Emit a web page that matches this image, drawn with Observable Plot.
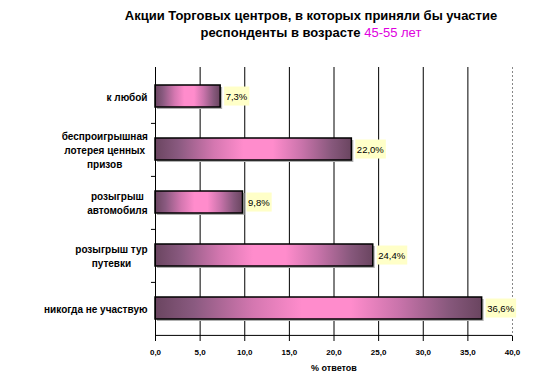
<!DOCTYPE html>
<html>
<head>
<meta charset="utf-8">
<script src="https://cdn.jsdelivr.net/npm/d3@7"></script>
<script src="https://cdn.jsdelivr.net/npm/@observablehq/plot@0.6"></script>
<style>
  html, body { margin: 0; padding: 0; background: #fff; }
  #wrap { position: relative; width: 535px; height: 390px; font-family: "Liberation Sans", Arial, sans-serif; }
  #title { box-sizing: border-box; height: 45px; margin-left: 87px; width: 448px; padding-top: 7px;
           text-align: center; font-weight: bold; font-size: 13px; line-height: 17px; color: #000; }
  #title .hl { color: #e000e0; font-weight: normal; }
</style>
</head>
<body>
<div id="wrap">
  <div id="title">Акции Торговых центров, в которых приняли бы участие<br>респонденты в возрасте <span class="hl">45-55 лет</span></div>
  <div id="chart"></div>
</div>
<script>
const categories = [
  "к любой",
  "беспроигрышная\nлотерея ценных\nпризов",
  "розыгрыш\nавтомобиля",
  "розыгрыш тур\nпутевки",
  "никогда не участвую"
];
const values = [7.3, 22.0, 9.8, 24.4, 36.6];
const xTicks = [0, 5, 10, 15, 20, 25, 30, 35, 40];
const xLabel = "% ответов";

const data = categories.map((c, i) => ({cat: c, value: values[i]}));
const fmt = d => d.toFixed(1).replace(".", ",");

const W = 535, H = 345, mT = 22, mB = 54, mL = 155, mR = 23;
const step = (H - mT - mB) / categories.length;

const plot = Plot.plot({
  width: W, height: H,
  marginTop: mT, marginBottom: mB, marginLeft: mL, marginRight: mR,
  style: {fontFamily: "'Liberation Sans', Arial, sans-serif", background: "#fff", color: "#000", overflow: "visible"},
  x: {domain: [0, 40], label: null},
  y: {domain: categories, paddingInner: 0.59, paddingOuter: 0.295, label: null},
  marks: [
    Plot.ruleX(xTicks.filter(v => v > 0 && v < 40), {stroke: "#000", strokeWidth: 1}),
    Plot.ruleX([40], {stroke: "#888", strokeDasharray: "2,2"}),
    Plot.barX(data, {x: "value", y: "cat", fill: "#b0b0b0", dx: 2, dy: 2}),
    Plot.barX(data, {x: "value", y: "cat", fill: "url(#barGrad)", stroke: "#000", strokeWidth: 1.5}),
    Plot.text(data, {x: "value", y: "cat", text: d => fmt(d.value) + "%", textAnchor: "start", dx: 5, fontSize: 9.5, fill: "#000"}),
    Plot.ruleX([0], {stroke: "#000"}),
    Plot.ruleY(categories.slice(0, 4), {x1: -0.45, x2: 0, dy: step / 2, stroke: "#000"}),
    Plot.ruleY(categories.slice(4), {dy: step / 2, stroke: "#000"}),
    Plot.axisY({tickSize: 0, tickPadding: 8, fontSize: 10, fontWeight: "bold", lineHeight: 1.4, label: null}),
    Plot.axisX({ticks: xTicks, tickFormat: fmt, tickSize: 5, tickPadding: 8, fontSize: 8, fontWeight: "bold",
                label: xLabel, labelArrow: false, labelAnchor: "center", labelOffset: 34})
  ]
});

document.getElementById("chart").appendChild(plot);

// gradient definition for the bars
const svg = d3.select(plot);
const defs = svg.insert("defs", ":first-child");
const grad = defs.append("linearGradient").attr("id", "barGrad").attr("x1", "0").attr("x2", "1").attr("y1", "0").attr("y2", "0");
[[0, "#6a4560"], [0.12, "#8a5a80"], [0.3, "#d477b0"], [0.45, "#ff8ccc"], [0.6, "#ff8ccc"], [0.75, "#c873aa"], [0.9, "#87587c"], [1, "#6a4560"]]
  .forEach(([o, c]) => grad.append("stop").attr("offset", o).attr("stop-color", c));

// style x-axis label
svg.selectAll("g[aria-label='x-axis label'] text")
  .attr("font-size", 9).attr("font-weight", "bold").attr("fill", "#000")
  .text(xLabel);

// center multi-line y labels as blocks, right-aligned
svg.selectAll("g[aria-label='y-axis tick label'] text").each(function() {
  const b = this.getBBox();
  const right = b.x + b.width;
  d3.select(this).attr("text-anchor", "middle");
  const b2 = this.getBBox();
  const shift = right - (b2.x + b2.width);
  d3.select(this).selectAll("tspan").attr("x", shift);
  if (d3.select(this).selectAll("tspan").empty()) d3.select(this).attr("dx", shift);
});

// yellow label boxes
svg.selectAll("g[aria-label='text'] text").each(function() {
  const b = this.getBBox();
  const r = document.createElementNS("http://www.w3.org/2000/svg", "rect");
  r.setAttribute("x", b.x - 1.5);
  r.setAttribute("y", b.y - 4);
  r.setAttribute("width", b.width + 3);
  r.setAttribute("height", b.height + 8);
  r.setAttribute("fill", "#ffffc8");
  const t = this.getAttribute("transform");
  if (t) r.setAttribute("transform", t);
  this.parentNode.insertBefore(r, this);
});
</script>
</body>
</html>
